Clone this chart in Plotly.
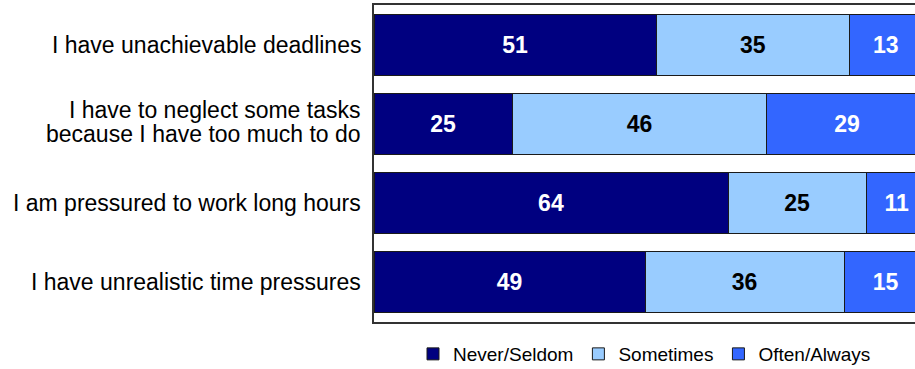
import plotly.graph_objects as go

categories = [
    "I have unachievable deadlines",
    "I have to neglect some tasks|because I have too much to do",
    "I am pressured to work long hours",
    "I have unrealistic time pressures",
]
series_names = ["Never/Seldom", "Sometimes", "Often/Always"]
never_seldom = [51, 25, 64, 49]
sometimes = [35, 46, 25, 36]
often_always = [13, 29, 11, 15]

fill_colors = ["#000080", "#99CCFF", "#3366FF"]
text_colors = ["#FFFFFF", "#000000", "#FFFFFF"]

FONT = "Liberation Sans, Arial, sans-serif"

fig = go.Figure()
for name, vals, fc, tc in zip(series_names, [never_seldom, sometimes, often_always],
                              fill_colors, text_colors):
    fig.add_trace(go.Bar(
        name=name,
        y=categories,
        x=vals,
        orientation="h",
        marker=dict(color=fc, line=dict(color="#1a1a1a", width=1)),
        text=[str(v) for v in vals],
        textposition="inside",
        insidetextanchor="middle",
        textangle=0,
        textfont=dict(family=FONT, size=23, color=tc, weight="bold"),
        cliponaxis=True,
    ))

# category labels, drawn as annotations so two-line labels keep tight spacing
annotations = []
for cat in categories:
    lines = cat.split("|")
    shifts = [0] if len(lines) == 1 else [14, -10]
    for line, sh in zip(lines, shifts):
        annotations.append(dict(
            xref="paper", x=0, yref="y", y=cat,
            text=line, showarrow=False,
            xanchor="right", yanchor="middle",
            xshift=-11, yshift=sh,
            font=dict(family=FONT, size=23, color="#000000"),
        ))

fig.update_layout(
    width=915, height=369,
    margin=dict(l=374, r=0, t=5, b=47, autoexpand=False),
    barmode="stack",
    bargap=0.23,
    plot_bgcolor="#FFFFFF",
    paper_bgcolor="#FFFFFF",
    showlegend=True,
    legend=dict(
        orientation="h",
        x=0.5, xanchor="center",
        y=-0.101, yanchor="middle",
        font=dict(family=FONT, size=19, color="#000000"),
        itemwidth=30,
        traceorder="normal",
    ),
    annotations=annotations,
    xaxis=dict(
        range=[0, 97.8],
        showticklabels=False, ticks="",
        showgrid=False, zeroline=False,
        showline=True, linecolor="#333333", linewidth=1.5, mirror=True,
    ),
    yaxis=dict(
        autorange="reversed",
        showticklabels=False, ticks="",
        showgrid=False, zeroline=False,
        showline=True, linecolor="#333333", linewidth=1.5,
    ),
)

fig.write_html("out.html")
